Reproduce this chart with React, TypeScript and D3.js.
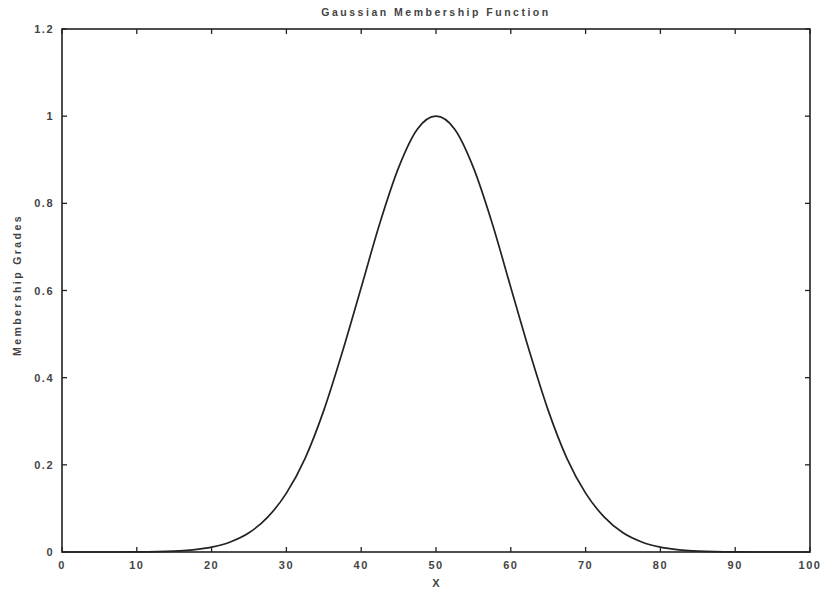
import React from "react";
import * as d3 from "d3";

const xs = [0, 5, 10, 15, 17.5, 20, 22.5, 25, 27.5, 30, 32.5, 35, 37.5, 40, 42.5, 45, 47.5, 50, 52.5, 55, 57.5, 60, 62.5, 65, 67.5, 70, 72.5, 75, 77.5, 80, 82.5, 85, 90, 95, 100];
const ys = [0, 0, 0.0003, 0.002, 0.005, 0.011, 0.023, 0.044, 0.08, 0.135, 0.215, 0.325, 0.46, 0.607, 0.755, 0.882, 0.97, 1, 0.97, 0.882, 0.755, 0.607, 0.46, 0.325, 0.215, 0.135, 0.08, 0.044, 0.023, 0.011, 0.005, 0.002, 0.0003, 0, 0];
const xTicks = [0, 10, 20, 30, 40, 50, 60, 70, 80, 90, 100];
const yTicks = [0, 0.2, 0.4, 0.6, 0.8, 1, 1.2];
const yTickLabels = ["0", "0.2", "0.4", "0.6", "0.8", "1", "1.2"];
const title = "Gaussian Membership Function";
const xLabel = "X";
const yLabel = "Membership Grades";

export default function App() {
  const W = 824, H = 592;
  const L = 62, R = 810, T = 29, B = 552;
  const x = d3.scaleLinear().domain([0, 100]).range([L, R]);
  const y = d3.scaleLinear().domain([0, 1.2]).range([B, T]);
  const pts: [number, number][] = xs.map((v, i) => [v, ys[i]]);
  const line = d3.line<[number, number]>().x(d => x(d[0])).y(d => y(d[1])).curve(d3.curveMonotoneX);
  const ink = "#222";
  const font = "'Liberation Sans', Arial, sans-serif";
  const tk = 5;
  return (
    <svg width={W} height={H} style={{ position: "absolute", left: 0, top: 0, background: "#fff" }}>
      <rect x={0} y={0} width={W} height={H} fill="#fff" />
      <rect x={L} y={T} width={R - L} height={B - T} fill="none" stroke={ink} strokeWidth={1.6} />
      {xTicks.map(t => (
        <g key={"x" + t}>
          <line x1={x(t)} x2={x(t)} y1={B} y2={B - tk} stroke={ink} strokeWidth={1.3} />
          <line x1={x(t)} x2={x(t)} y1={T} y2={T + tk} stroke={ink} strokeWidth={1.3} />
          <text x={x(t)} y={B + 17} textAnchor="middle" fontFamily={font} fontSize={11} fontWeight="bold" fill="#444" letterSpacing={1.5}>{t}</text>
        </g>
      ))}
      {yTicks.map((t, i) => (
        <g key={"y" + t}>
          <line x1={L} x2={L + tk} y1={y(t)} y2={y(t)} stroke={ink} strokeWidth={1.3} />
          <line x1={R} x2={R - tk} y1={y(t)} y2={y(t)} stroke={ink} strokeWidth={1.3} />
          <text x={L - 8} y={y(t) + 4} textAnchor="end" fontFamily={font} fontSize={11} fontWeight="bold" fill="#444" letterSpacing={1.5}>{yTickLabels[i]}</text>
        </g>
      ))}
      <path d={line(pts) || ""} fill="none" stroke={ink} strokeWidth={1.7} />
      <text x={436} y={16} textAnchor="middle" fontFamily={font} fontSize={10.5} fontWeight="bold" fill="#444" letterSpacing={2.5}>{title}</text>
      <text x={436} y={587} textAnchor="middle" fontFamily={font} fontSize={11} fontWeight="bold" fill="#444">{xLabel}</text>
      <text transform={`translate(21,285) rotate(-90)`} textAnchor="middle" fontFamily={font} fontSize={10.5} fontWeight="bold" fill="#444" letterSpacing={2.4}>{yLabel}</text>
    </svg>
  );
}
